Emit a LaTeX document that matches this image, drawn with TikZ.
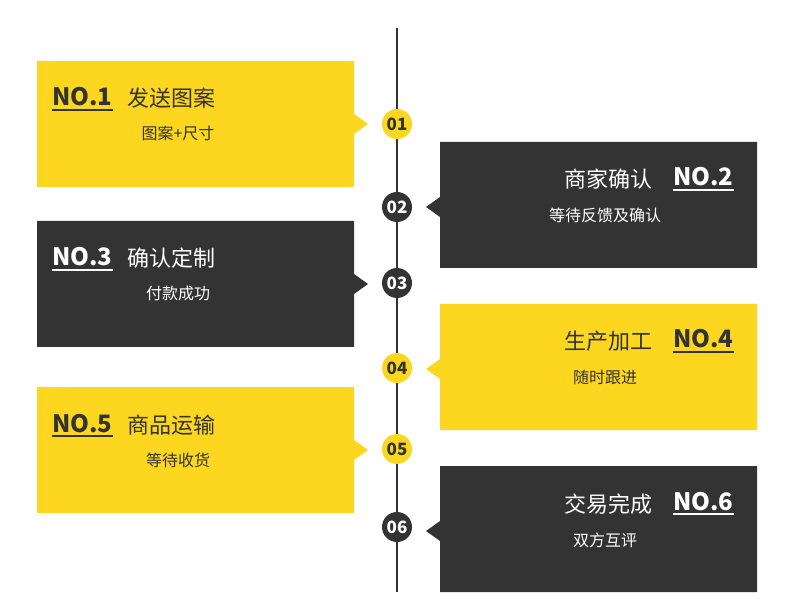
\documentclass[tikz,border=0pt]{standalone}
\usepackage{fontspec}
\setmainfont{Noto Sans CJK SC}
\begin{document}
\begin{tikzpicture}[x=1pt,y=-1pt,
  yb/.style={fill=yel}, db/.style={fill=dk},
  num/.style={font=\bfseries\fontsize{24}{24}\selectfont, inner sep=0pt, anchor=base west},
  ttl/.style={font=\fontsize{22}{22}\selectfont, inner sep=0pt},
  sub/.style={font=\fontsize{16}{16}\selectfont, inner sep=0pt, anchor=base},
  circ/.style={circle, minimum size=30pt, inner sep=0pt, font=\bfseries\fontsize{17}{17}\selectfont}]
\definecolor{yel}{HTML}{FDD71F}
\definecolor{dk}{HTML}{333333}
\useasboundingbox[fill=white] (0,0) rectangle (790,612);
\draw[dk, line width=2.5pt] (397,28) coordinate (top) -- (397,592) coordinate (bot);
% left boxes
\foreach \y/\c/\t/\s/\n/\tc [count=\i] in {61/yel/发送图案/图案+尺寸/1/dk, 221/dk/确认定制/付款成功/3/white, 387/yel/商品运输/等待收货/5/dk}{
  \fill[\c] (37,\y) -- (354,\y) -- (354,\y+53) -- (368,\y+63) -- (354,\y+73) -- (354,\y+126) -- (37,\y+126) -- cycle;
  \node[num, text=\tc] (n\n) at (52,\y+45) {NO.\n};
  \draw[\tc, line width=1.5pt] ([yshift=-4pt]n\n.base west) -- ([yshift=-4pt]n\n.base east);
  \node[ttl, text=\tc, anchor=base west] (t\n) at (127,\y+46) {\t};
  \node[sub, text=\tc] (s\n) at (178,\y+79) {\s};
}
\foreach \y/\c/\t/\s/\n/\tc in {142/dk/商家确认/等待反馈及确认/2/white, 304/yel/生产加工/随时跟进/4/dk, 466/dk/交易完成/双方互评/6/white}{
  \fill[\c] (757,\y) -- (440,\y) -- (440,\y+55) -- (426,\y+65) -- (440,\y+75) -- (440,\y+126) -- (757,\y+126) -- cycle;
  \node[num, text=\tc] (n\n) at (673,\y+44) {NO.\n};
  \draw[\tc, line width=1.5pt] ([yshift=-4pt]n\n.base west) -- ([yshift=-4pt]n\n.base east);
  \node[ttl, text=\tc, anchor=base east] (t\n) at (653,\y+46) {\t};
  \node[sub, text=\tc] (s\n) at (605,\y+80) {\s};
}
\node[circ, fill=yel, text=dk] (c1) at (397,124) {01};
\node[circ, fill=dk, text=white] (c2) at (397,207) {02};
\node[circ, fill=dk, text=white] (c3) at (397,283) {03};
\node[circ, fill=yel, text=dk] (c4) at (397,368) {04};
\node[circ, fill=yel, text=dk] (c5) at (397,449) {05};
\node[circ, fill=dk, text=white] (c6) at (397,527) {06};
\end{tikzpicture}
\end{document}
